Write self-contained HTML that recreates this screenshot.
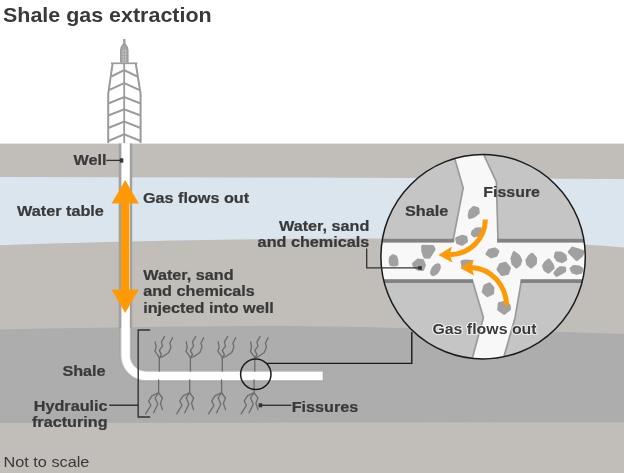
<!DOCTYPE html>
<html lang="en">
<head>
<meta charset="utf-8">
<title>Shale gas extraction</title>
<style>
html,body{margin:0;padding:0;background:#fff;}
body{width:624px;height:473px;overflow:hidden;}
svg{display:block;will-change:transform;}
text{font-family:"Liberation Sans",Arial,Helvetica,sans-serif;fill:#393939;}
.b{font-weight:bold;font-size:15.3px;}
.b text{stroke:#393939;stroke-width:.22px;}
.b text.halo{stroke:#fff;stroke-width:2.2px;stroke-linejoin:round;stroke-opacity:.7;paint-order:stroke;}
</style>
</head>
<body>
<svg width="624" height="473" viewBox="0 0 624 473">
<defs>
<clipPath id="cc"><circle cx="483.1" cy="256.7" r="102.2"/></clipPath>
</defs>
<rect width="624" height="473" fill="#fff"/>
<!-- ground layers -->
<rect x="0" y="143.6" width="624" height="330" fill="#c1bdb8"/>
<path d="M0 177 L300 177.5 L624 179 L624 247.4 C560 242 440 238.6 350 238.6 C240 238.6 100 241.5 0 245.2 Z" fill="#dae5ee"/>
<path d="M0 329.5 C100 327.5 200 326 290 326 C400 327.5 520 330.5 624 334 L624 422.2 L300 422.6 L0 423 Z" fill="#adadad"/>

<!-- title -->
<text transform="translate(3 22.2) scale(1.022 1)" font-size="21" font-weight="bold">Shale gas extraction</text>

<!-- derrick -->
<g fill="none" stroke="#9b9b9b" stroke-width="2" stroke-linejoin="miter">
<path d="M124.3 39 V45" stroke-width="2.3"/>
<path d="M120.7 62.5 V50.5 Q120.9 46.8 123.2 44.5 H125.4 Q127.7 46.8 127.9 50.5 V62.5" fill="#a8a8a8" stroke-width="1.4"/>
<path d="M111 63.3 H137.3" stroke-width="1.7"/>
<path d="M112.6 63.5 L108.2 94 V143 M135.8 63.5 L140.6 94 V143"/>
<path d="M124.2 63.5 V143" stroke-width="1.8"/>
<path d="M111.4 76.5 L124.2 70.2 L137.2 76.5"/>
<path d="M109.5 89.8 L124.2 83 L139.2 89.8"/>
<path d="M108.2 103.5 L124.2 97 L140.6 103.5"/>
<path d="M108.2 115.5 L124.2 109.4 L140.6 115.5"/>
<path d="M108.2 128 L124.2 121.6 L140.6 128"/>
<path d="M108.2 141 L124.2 134.4 L140.6 141"/>
</g>
<path d="M123.1 50 V62 M125.5 50 V62" stroke="#d2d2d2" stroke-width=".8" stroke-dasharray="2 1" fill="none"/>

<!-- well pipe -->
<path d="M125.45 143.6 V330" fill="none" stroke="#a1a1a1" stroke-width="13.5"/>
<path d="M125.6 326 V355 A20.5 20.5 0 0 0 146.1 375.9 H323.6" fill="none" stroke="#a3a3a3" stroke-width="12.4"/>
<path d="M125.6 328 V355 A20.5 20.5 0 0 0 146.1 375.9 H323" fill="none" stroke="#bdbdbd" stroke-width="10.8"/>
<path d="M125.6 143 V355 A20.5 20.5 0 0 0 146.1 375.9 H322.6" fill="none" stroke="#fff" stroke-width="8.4"/>

<!-- arrows -->
<path d="M125.2 180 L138.8 203.5 H129.4 V289.5 H138.8 L125.2 313 L111.6 289.5 H121 V203.5 H111.6 Z" fill="#ff9a06"/>

<!-- fissures -->
<g fill="none" stroke="#6c6c6c" stroke-width="1.3" stroke-linecap="round" stroke-linejoin="round">
<g>
<path d="M159.3 371 V357.8 M158.6 380 V392.8"/>
<path d="M155.1 341.9 L156.1 347.2 L154.9 351.4 L159.3 357.3"/>
<path d="M164.6 336.6 L161.4 341.9 L162.5 346.1 L159.3 350.4 L161.4 354.6 L159.3 357.8"/>
<path d="M172.6 337.7 L169.9 343 L170.9 347.2 L168.8 352.5 L162.5 356.7 L159.3 357.8"/>
<path d="M158.3 392.8 L151.9 395.8 L148.7 401.1 L150.9 405.3 L145.6 413.8"/>
<path d="M158.3 393 L155.1 398 L157.8 404.3 L153.6 412.7"/>
<path d="M158.7 393 L162.5 398 L160.4 403.2 L162.5 409.6"/>
</g>
<g transform="translate(31.1 0)">
<path d="M159.3 371 V357.8 M158.6 380 V392.8"/>
<path d="M155.1 341.9 L156.1 347.2 L154.9 351.4 L159.3 357.3"/>
<path d="M164.6 336.6 L161.4 341.9 L162.5 346.1 L159.3 350.4 L161.4 354.6 L159.3 357.8"/>
<path d="M172.6 337.7 L169.9 343 L170.9 347.2 L168.8 352.5 L162.5 356.7 L159.3 357.8"/>
<path d="M158.3 392.8 L151.9 395.8 L148.7 401.1 L150.9 405.3 L145.6 413.8"/>
<path d="M158.3 393 L155.1 398 L157.8 404.3 L153.6 412.7"/>
<path d="M158.7 393 L162.5 398 L160.4 403.2 L162.5 409.6"/>
</g>
<g transform="translate(63 0)">
<path d="M159.3 371 V357.8 M158.6 380 V392.8"/>
<path d="M155.1 341.9 L156.1 347.2 L154.9 351.4 L159.3 357.3"/>
<path d="M164.6 336.6 L161.4 341.9 L162.5 346.1 L159.3 350.4 L161.4 354.6 L159.3 357.8"/>
<path d="M172.6 337.7 L169.9 343 L170.9 347.2 L168.8 352.5 L162.5 356.7 L159.3 357.8"/>
<path d="M158.3 392.8 L151.9 395.8 L148.7 401.1 L150.9 405.3 L145.6 413.8"/>
<path d="M158.3 393 L155.1 398 L157.8 404.3 L153.6 412.7"/>
<path d="M158.7 393 L162.5 398 L160.4 403.2 L162.5 409.6"/>
</g>
<g transform="translate(95.5 0)">
<path d="M159.3 371 V357.8 M158.6 380 V392.8"/>
<path d="M155.1 341.9 L156.1 347.2 L154.9 351.4 L159.3 357.3"/>
<path d="M164.6 336.6 L161.4 341.9 L162.5 346.1 L159.3 350.4 L161.4 354.6 L159.3 357.8"/>
<path d="M172.6 337.7 L169.9 343 L170.9 347.2 L168.8 352.5 L162.5 356.7 L159.3 357.8"/>
<path d="M158.3 392.8 L151.9 395.8 L148.7 401.1 L150.9 405.3 L145.6 413.8"/>
<path d="M158.3 393 L155.1 398 L157.8 404.3 L153.6 412.7"/>
<path d="M158.7 393 L162.5 398 L160.4 403.2 L162.5 409.6"/>
</g>
</g>

<!-- bracket -->
<path d="M150.2 330 H138.2 V417 H150.2 M109.2 405.3 H138" fill="none" stroke="#333" stroke-width="1.4"/>

<!-- small circle & connector -->
<circle cx="255.8" cy="374.2" r="15.2" fill="none" stroke="#1a1a1a" stroke-width="1.5"/>
<path d="M266.3 363.4 H411.8 V332" fill="none" stroke="#1a1a1a" stroke-width="1.4"/>
<path d="M261 405.3 H291.3" fill="none" stroke="#333" stroke-width="1.4"/>
<rect x="258.6" y="403.3" width="3.6" height="4" fill="#333"/>
<path d="M106.3 160.4 H121" fill="none" stroke="#333" stroke-width="1.3"/>
<rect x="119.8" y="158.3" width="3.5" height="4.3" fill="#333"/>

<!-- big circle -->
<g clip-path="url(#cc)">
<rect x="378" y="152" width="210" height="210" fill="#f7f8f7"/>
<g fill="#c5c5c5" stroke="#9a9a9a" stroke-width="1.7" stroke-linejoin="miter">
<path d="M376 148 H451.7 L463.2 188 L453.6 237.5 V241 H376 Z"/>
<path d="M480.6 148 L496.4 182 L498 241 H592 V148 Z"/>
<path d="M376 281 H472.6 L483.4 317.5 L471.3 362 H376 Z"/>
<path d="M592 281 H521.3 L515 318 L502.4 362 H592 Z"/>
</g>
<g fill="#828282">
<rect x="376" y="238.8" width="77.8" height="3.8"/>
<rect x="497.2" y="238.8" width="96" height="3.8"/>
<rect x="376" y="279.2" width="97" height="3.8"/>
<rect x="520.6" y="279.2" width="72" height="3.8"/>
</g>
<!-- pebbles -->
<g fill="#a1a1a1" stroke="#a1a1a1" stroke-width="3.2" stroke-linejoin="round">
<path d="M390.2 261.6 L390.5 258.0 L392.7 255.9 L395.6 256.7 L396.7 259.9 L396.9 264.2 L394.6 264.9 L391.0 264.7 Z"/>
<path d="M422.8 246.3 L432.7 246.7 L433.9 249.5 L429.0 257.2 L424.9 257.0 L422.9 251.2 Z"/>
<path d="M413.5 263.9 L418.1 260.1 L422.5 260.7 L424.3 265.2 L422.6 269.5 L417.7 268.8 L414.3 265.7 Z"/>
<path d="M514.2 252.7 L518.8 256.3 L520.6 260.2 L519.3 264.6 L516.4 266.9 L513.0 263.5 L512.0 258.3 Z"/>
<path d="M532.1 254.4 L535.5 258.3 L535.3 263.2 L531.2 266.9 L527.8 264.1 L527.0 260.2 L529.3 256.5 Z"/>
<path d="M548.9 260.1 L552.1 264.6 L553.1 267.9 L548.4 272.0 L545.0 269.8 L543.7 265.9 L545.5 262.7 Z"/>
<path d="M556.1 253.2 L561.1 253.1 L564.9 255.6 L565.6 259.4 L562.0 261.6 L557.8 260.2 L555.4 256.9 Z"/>
<path d="M560.3 267.8 L564.5 268.1 L564.6 270.9 L560.3 273.4 L556.5 275.2 L555.0 273.0 L557.5 269.9 Z"/>
<path d="M572.5 248.2 L578.4 250.0 L582.9 251.7 L581.6 255.6 L576.7 259.4 L573.8 256.4 L569.4 252.1 Z"/>
<path d="M573.9 266.5 L578.9 267.1 L581.5 268.9 L581.0 272.1 L576.7 273.3 L572.9 272.0 L571.1 268.8 Z"/>
<path d="M489.4 250.2 L494.9 249.0 L497.8 251.4 L496.1 255.2 L491.2 256.8 L487.1 254.0 Z"/>
<path d="M500.2 264.9 L505.4 263.3 L509.3 268.1 L507.4 273.4 L502.1 274.4 L498.1 269.4 Z"/>
<path d="M462.1 261.7 L466.5 261.1 L471.3 261.6 L467.5 264.3 L462.9 266.0 Z"/>
<path d="M484.9 286.0 L489.5 283.9 L492.8 288.0 L492.5 293.1 L487.4 295.6 L483.3 291.9 Z"/>
<path d="M499.4 303.5 L504.1 302.6 L509.0 305.5 L509.4 308.9 L504.1 313.2 L498.8 309.5 Z"/>
<path d="M456.8 238.5 L461.9 236.4 L465.8 237.3 L466.4 241.1 L462.0 244.2 L457.5 242.4 Z"/>
<path d="M469.2 215.3 L470.2 211.0 L473.6 207.6 L477.7 208.7 L478.2 212.8 L473.6 216.2 L469.7 217.4 Z"/>
<path d="M472.8 231.7 L476.2 229.1 L480.2 228.9 L479.2 234.7 L474.4 235.8 L472.5 234.1 Z"/>
<ellipse cx="435.5" cy="269.6" rx="2.6" ry="5.5" transform="rotate(35 435.5 269.6)"/>
</g>
<!-- orange arrows -->
<g fill="none" stroke="#ff9a06" stroke-width="5">
<path d="M485.4 219.5 C485 238 471 254 450 254.8"/>
<path d="M506.8 305.2 C505.5 285 492 268.5 471 267.4"/>
</g>
<path d="M438.3 255 L451.8 246.8 L449.8 254.6 L452.4 262.6 Z" fill="#ff9a06"/>
<path d="M460.2 267.9 L473.7 259.5 L471.6 267.2 L474 275.5 Z" fill="#ff9a06"/>
</g>
<circle cx="483.1" cy="256.7" r="102.2" fill="none" stroke="#1a1a1a" stroke-width="1.5"/>

<!-- leader for water, sand -->
<path d="M366.7 248.5 V267.9 H419" fill="none" stroke="#333" stroke-width="1.3"/>
<rect x="418.2" y="266.1" width="3.7" height="3.7" fill="#333"/>

<!-- labels -->
<g class="b">
<text transform="translate(73.6 164.9) scale(1.06 1)">Well</text>
<text transform="translate(17.1 215.7) scale(1.06 1)">Water table</text>
<text transform="translate(142.9 202.7) scale(1.06 1)">Gas flows out</text>
<text transform="translate(143.2 280.4) scale(1.06 1)">Water, sand</text>
<text transform="translate(143.2 296.4) scale(1.06 1)">and chemicals</text>
<text transform="translate(143.2 312.5) scale(1.06 1)">injected into well</text>
<text transform="translate(62.4 376) scale(1.06 1)">Shale</text>
<text transform="translate(107.6 411.2) scale(1.06 1)" text-anchor="end">Hydraulic</text>
<text transform="translate(107.6 426.9) scale(1.06 1)" text-anchor="end">fracturing</text>
<text transform="translate(291.7 412) scale(1.06 1)">Fissures</text>
<text transform="translate(369.3 231.4) scale(1.06 1)" text-anchor="end">Water, sand</text>
<text transform="translate(369.3 246.9) scale(1.06 1)" text-anchor="end">and chemicals</text>
<text transform="translate(405 215.7) scale(1.06 1)">Shale</text>
<text transform="translate(483.2 196.8) scale(1.045 1)">Fissure</text>
<text transform="translate(432.4 333.6) scale(1.04 1)" class="halo">Gas flows out</text>
</g>
<text transform="translate(3.5 467.2) scale(1.085 1)" font-size="15">Not to scale</text>
</svg>
</body>
</html>
